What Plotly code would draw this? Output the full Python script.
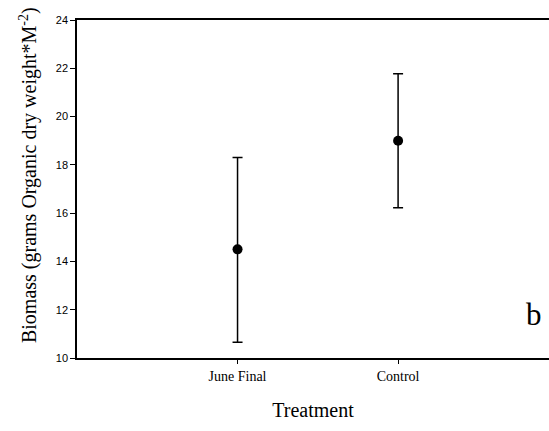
import plotly.graph_objects as go

treatments = ["June Final", "Control"]
biomass_mean = [14.5, 19.0]
err_plus = [3.8, 2.77]
err_minus = [3.85, 2.78]
y_ticks = [10, 12, 14, 16, 18, 20, 22, 24]

fig = go.Figure()
fig.add_trace(go.Scatter(
    x=treatments, y=biomass_mean, mode="markers",
    marker=dict(color="black", size=10),
    error_y=dict(type="data", symmetric=False, array=err_plus, arrayminus=err_minus,
                 color="black", thickness=1.5, width=5),
    showlegend=False,
))

fig.update_layout(
    width=549, height=431,
    margin=dict(l=77, r=0, t=20, b=73),
    plot_bgcolor="white", paper_bgcolor="white",
    xaxis=dict(
        type="category", range=[-1, 1.94],
        showline=True, linecolor="black", linewidth=1.5, mirror=True,
        ticks="outside", ticklen=4, tickcolor="black", showgrid=False,
        tickfont=dict(family="Liberation Serif", size=14, color="black"),
        title=dict(text="Treatment", font=dict(family="Liberation Serif", size=20, color="black"), standoff=20),
    ),
    yaxis=dict(
        range=[10, 24], tickvals=y_ticks,
        showline=True, linecolor="black", linewidth=1.5,
        ticks="outside", ticklen=5, tickcolor="black", showgrid=False, zeroline=False,
        tickfont=dict(family="Liberation Sans", size=11, color="black"),
    ),
    annotations=[
        dict(text="b", x=0.99, y=0.07, xref="paper", yref="paper", showarrow=False,
             font=dict(family="Liberation Serif", size=31, color="black")),
        dict(text="Biomass (grams Organic dry weight*M<sup>-2</sup>)", textangle=-90,
             x=-0.104, y=0.541, xref="paper", yref="paper", showarrow=False,
             xanchor="center", yanchor="middle",
             font=dict(family="Liberation Serif", size=20, color="black")),
    ],
)

fig.write_html("out.html")
